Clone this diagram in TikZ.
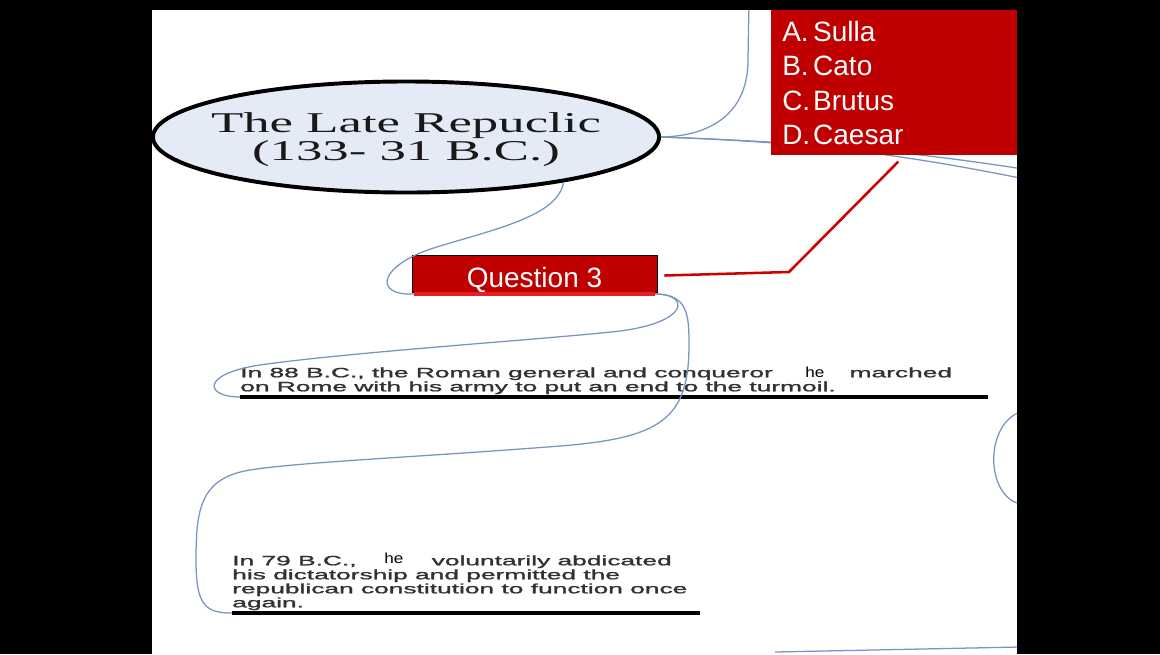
\documentclass[tikz,border=0pt]{standalone}
\usepackage{fontspec}
\setmainfont{Liberation Serif}
\newfontfamily\arialfont{Liberation Sans}
\newfontfamily\factfont[FakeBold=1.2]{Liberation Sans}
\usepackage{xcolor}
\usepackage{tikz}
\usetikzlibrary{positioning}
\usetikzlibrary{calc,shapes.geometric}

\definecolor{quizred}{RGB}{192,0,0}
\definecolor{linkred}{RGB}{204,0,0}
\definecolor{underred}{RGB}{228,32,32}
\definecolor{branchblue}{RGB}{120,148,196}
\definecolor{ovalfill}{RGB}{228,235,246}
\definecolor{factgray}{RGB}{50,50,50}

\newcommand{\widetitle}[1]{\scalebox{1.84}[1]{#1}}
\newcommand{\widetext}[1]{\scalebox{1.95}[1]{#1}}

\begin{document}
\begin{tikzpicture}[x=0.025cm,y=-0.025cm]
    % Define the styles
    \tikzset{branch/.style={draw=branchblue, line width=0.9pt}}
    \tikzset{fact/.style={anchor=north west, inner sep=0pt, align=left, text=factgray, font=\factfont\fontsize{9.6}{9.96}\selectfont}}
    \tikzset{blank/.style={anchor=base west, inner sep=0pt, text=black, font=\arialfont\fontsize{10.3}{12}\selectfont}}
    \tikzset{rule/.style={line width=2.2pt}}

    \useasboundingbox (0,0) rectangle (1160,654);
    \fill[white] (0,0) rectangle (1160,654);

    % Draw the title oval
    \node[ellipse, draw, line width=2.8pt, fill=ovalfill, minimum width=12.65cm, minimum height=2.775cm,
          inner xsep=-0.5cm, inner ysep=0pt, align=center, text=black!90,
          font=\fontsize{20.4}{19.9}\selectfont] (title) at (406,137)
          {\rule{0pt}{18pt}\widetitle{The Late Repuclic}\\\widetitle{(133- 31 B.C.)}};

    % Draw the question box
    \node[fill=quizred, draw=black, line width=0.6pt, minimum width=6.125cm, minimum height=0.925cm,
          inner sep=0pt, text height=19.2pt, text depth=0pt, text=white,
          font=\arialfont\fontsize{19.9}{24}\selectfont] (q3) at (534.5,273.5) {Question 3};
    \coordinate (q3u1) at (414,294);
    \coordinate (q3u2) at (655,294);
    \draw[rule, underred] (q3u1) -- (q3u2);

    % Draw the two facts
    \node[fact] (fact88) at (240,367.2)
        {\widetext{In 88 B.C., the Roman general and conqueror\hspace{28pt}marched}\\
         \widetext{on Rome with his army to put an end to the turmoil.}};
    \node[blank] (he88) at (805,377) {\scalebox{1.18}[1]{he}};
    \coordinate (u88a) at (240,397);
    \coordinate (u88b) at (988,397);
    \draw[rule] (u88a) -- (u88b);

    \node[fact] (fact79) at (232,555.2)
        {\widetext{In 79 B.C.,\hspace{27.4pt}voluntarily abdicated}\\
         \widetext{his dictatorship and permitted the}\\
         \widetext{republican constitution to function once}\\
         \widetext{again.}};
    \node[blank] (he79) at (384,563) {\scalebox{1.18}[1]{he}};
    \coordinate (u79a) at (232,613);
    \coordinate (u79b) at (700,613);
    \draw[rule] (u79a) -- (u79b);

    % Draw the branches
    \coordinate (upper) at (749,0);
    \coordinate (rightA) at (1020,168.5);
    \coordinate (rightB) at (1020,178);
    \draw[branch] (title.east) .. controls (715,136) and (748,110) .. (748,60) -- (upper);
    \draw[branch] (title.east) .. controls (800,142) and (900,150) .. (rightA);
    \draw[branch] (title.east) .. controls (800,142) and (890,152) .. (rightB);
    \draw[branch] (title.-16) .. controls (558,215) and (500,228) .. (440,246)
                              .. controls (378,264) and (372,296) .. (q3u1);
    \draw[branch] (q3u2) .. controls (690,294) and (690,322) .. (620,331)
                         .. controls (550,339) and (350,352) .. (260,365)
                         .. controls (200,374) and (205,397) .. (u88a);
    \draw[branch] (q3u2) .. controls (688,294) and (689,315) .. (689,345)
                         .. controls (689,420) and (660,438) .. (560,446)
                         .. controls (420,457) and (300,462) .. (250,470)
                         .. controls (200,478) and (196,510) .. (196,560)
                         .. controls (196,605) and (205,613) .. (u79a);
    \coordinate (arcA) at (1020,412);
    \coordinate (arcB) at (1020,504);
    \draw[branch] (arcA) .. controls (985,425) and (985,495) .. (arcB);
    \coordinate (lowA) at (775,652);
    \coordinate (lowB) at (1020,647);
    \draw[branch] (lowA) -- (lowB);

    % Draw the answer box
    \node[anchor=north west, fill=quizred, minimum width=6.15cm, minimum height=3.625cm,
          inner xsep=0.275cm, inner ysep=0pt, text width=5.6cm, align=left, text=white,
          font=\arialfont\fontsize{19.9}{24.5}\selectfont] (opts) at (771,10)
          {\makebox[22pt][l]{A.}Sulla\\\makebox[22pt][l]{B.}Cato\\\makebox[22pt][l]{C.}Brutus\\\makebox[22pt][l]{D.}Caesar};

    % Link the question to its answers
    \coordinate (kink) at (789,272);
    \draw[linkred, line width=1.8pt] ($(q3.east)+(7,2)$) -- (kink) -- ($(opts.south)+(4,6)$);

    % Black margins
    \fill[black] (0,0) rectangle (152,654);
    \fill[black] (1017,0) rectangle (1160,654);
    \fill[black] (0,0) rectangle (1160,10);
\end{tikzpicture}
\end{document}
